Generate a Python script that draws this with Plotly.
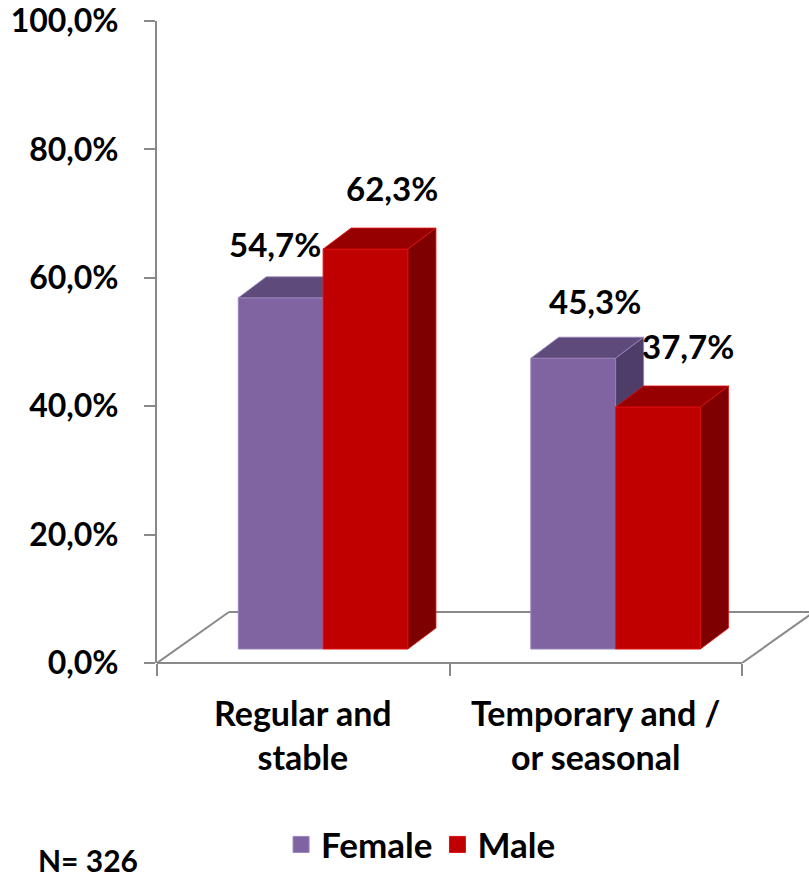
import plotly.graph_objects as go

# ---------------- data ----------------
categories = ["Regular and<br>stable", "Temporary and /<br>or seasonal"]
female = [54.7, 45.3]
male = [62.3, 37.7]
series_names = ["Female", "Male"]
y_tick_vals = [0, 20, 40, 60, 80, 100]
y_tick_text = ["0,0%", "20,0%", "40,0%", "60,0%", "80,0%", "100,0%"]
label_text_female = ["54,7%", "45,3%"]
label_text_male = ["62,3%", "37,7%"]
n_note = "N= 326"

# ---------------- style / geometry ----------------
W, H = 809, 877
ML, MR, MT, MB = 157, 0, 21, 214
X_RANGE = [-0.5, 1.729]
Y_RANGE = [0, 100]
bar_w = 0.29          # width of each bar (category units)
front_dx = 0.068      # bars sit inside the floor: shift right
front_dy = 2.18       # and up (value units)
bar_dx = 0.0957       # 3D depth of bars
bar_dy = 3.27
floor_dx = 0.246      # 3D depth of floor
floor_dy = 7.94
GRAY = "#898989"
FONT = "Lato"
FS = 32

COL = {
    "Female": {"front": "#8064A2", "top": "#5F4B7B", "side": "#4E3D69", "edge": "#9A84BC"},
    "Male": {"front": "#C00000", "top": "#970000", "side": "#7E0000", "edge": "#E01010"},
}
label_xshift = {"Female": [-20, 8], "Male": [12, 16]}
label_yshift = {"Female": [33, 36], "Male": [40, 40]}

fig = go.Figure()

def add_series(name, values, offset, xa, ya):
    c = COL[name]
    xs = [i + offset + front_dx for i in range(len(values))]
    fig.add_trace(go.Bar(
        x=xs, y=values, base=front_dy, width=bar_w,
        marker=dict(color=c["front"], line=dict(color=c["edge"], width=1)),
        showlegend=False, xaxis=xa, yaxis=ya, hoverinfo="skip"))
    for xc, v in zip(xs, values):
        xl, xr = xc - bar_w / 2, xc + bar_w / 2
        top = front_dy + v
        # top face
        fig.add_trace(go.Scatter(
            x=[xl, xr, xr + bar_dx, xl + bar_dx, xl],
            y=[top, top, top + bar_dy, top + bar_dy, top],
            fill="toself", fillcolor=c["top"], mode="lines",
            line=dict(color=c["edge"], width=0.8),
            showlegend=False, xaxis=xa, yaxis=ya, hoverinfo="skip"))
        # side face
        fig.add_trace(go.Scatter(
            x=[xr, xr, xr + bar_dx, xr + bar_dx, xr],
            y=[front_dy, top, top + bar_dy, front_dy + bar_dy, front_dy],
            fill="toself", fillcolor=c["side"], mode="lines",
            line=dict(color=c["edge"], width=0.8),
            showlegend=False, xaxis=xa, yaxis=ya, hoverinfo="skip"))
    return xs

xs_f = add_series("Female", female, -bar_w / 2, "x", "y")
xs_m = add_series("Male", male, bar_w / 2, "x2", "y2")

# legend entries
for name in series_names:
    fig.add_trace(go.Scatter(
        x=[None], y=[None], mode="markers", name=name,
        marker=dict(symbol="square", size=20, color=COL[name]["front"],
                    line=dict(color=COL[name]["edge"], width=1)),
        xaxis="x", yaxis="y"))

# data labels
annotations = []
for name, xs, vals, texts in [("Female", xs_f, female, label_text_female),
                              ("Male", xs_m, male, label_text_male)]:
    for k, (xc, v, t) in enumerate(zip(xs, vals, texts)):
        annotations.append(dict(
            x=xc + bar_dx / 2, y=front_dy + v + bar_dy, xref="x", yref="y",
            text=t, showarrow=False, xanchor="center", yanchor="middle",
            xshift=label_xshift[name][k], yshift=label_yshift[name][k],
            font=dict(family=FONT, size=FS + 1, color="black", weight="bold")))

# category labels
for i, cat in enumerate(categories):
    annotations.append(dict(
        x=i, y=-0.112, xref="x", yref="paper", text=cat, showarrow=False,
        xanchor="center", yanchor="middle", align="center",
        font=dict(family=FONT, size=FS + 2, color="black", weight="bold")))

annotations.append(dict(
    x=-0.106, y=-0.307, xref="paper", yref="paper", text=n_note, showarrow=False,
    xanchor="center", yanchor="middle",
    font=dict(family=FONT, size=FS - 2, color="black", weight="bold")))

# floor (3D walls base)
x_left, x_right = -0.5, 1.5
shapes = [
    dict(type="line", xref="x", yref="paper", x0=x_left, x1=x_right, y0=0, y1=0,
         line=dict(color=GRAY, width=2), layer="below"),
    dict(type="line", xref="x", yref="y", x0=x_left, y0=0, x1=x_left + floor_dx, y1=floor_dy,
         line=dict(color=GRAY, width=2), layer="below"),
    dict(type="line", xref="x", yref="y", x0=x_left + floor_dx, y0=floor_dy, x1=X_RANGE[1], y1=floor_dy,
         line=dict(color=GRAY, width=2), layer="below"),
    dict(type="line", xref="x", yref="y", x0=x_right, y0=0, x1=x_right + floor_dx, y1=floor_dy,
         line=dict(color=GRAY, width=2), layer="below"),
]

axis_common = dict(showgrid=False, zeroline=False)
fig.update_layout(
    width=W, height=H,
    margin=dict(l=ML, r=MR, t=MT, b=MB, pad=0),
    paper_bgcolor="white", plot_bgcolor="white",
    barmode="overlay",
    xaxis=dict(range=X_RANGE, tickvals=[-0.5, 0.5, 1.5], ticktext=["", "", ""],
               ticks="outside", ticklen=12, tickwidth=2, tickcolor=GRAY,
               showline=False, fixedrange=True, **axis_common),
    yaxis=dict(range=Y_RANGE, tickvals=y_tick_vals, ticktext=y_tick_text,
               ticks="outside", ticklen=11, tickwidth=2, tickcolor=GRAY,
               showline=True, linecolor=GRAY, linewidth=2, ticklabelstandoff=19,
               tickfont=dict(family=FONT, size=FS, color="black", weight="bold"),
               fixedrange=True, **axis_common),
    xaxis2=dict(range=X_RANGE, overlaying="x", visible=False, **axis_common),
    yaxis2=dict(range=Y_RANGE, overlaying="y", visible=False, **axis_common),
    legend=dict(orientation="h", x=0.405, y=-0.283, xanchor="center", yanchor="middle",
                font=dict(family=FONT, size=FS + 3, color="black", weight="bold"),
                itemsizing="trace", bgcolor="rgba(0,0,0,0)"),
    shapes=shapes,
    annotations=annotations,
    showlegend=True,
)

fig.write_html("out.html")
